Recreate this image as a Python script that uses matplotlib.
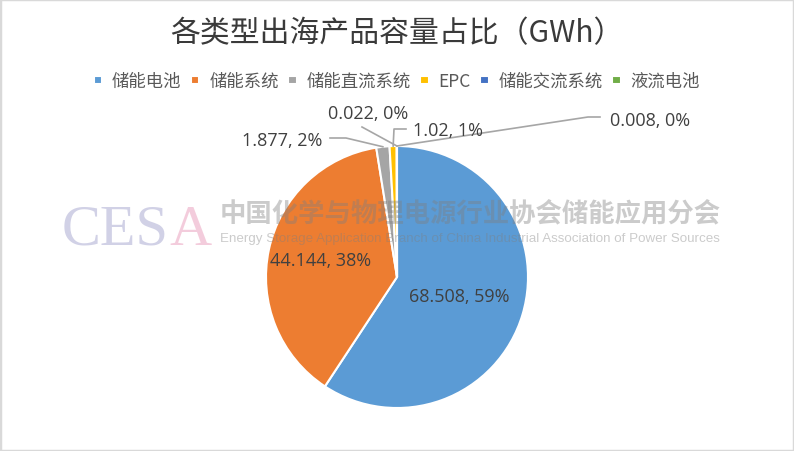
import numpy as np
import matplotlib.pyplot as plt
from matplotlib.lines import Line2D
from matplotlib.patches import Rectangle

categories = ['储能电池', '储能系统', '储能直流系统', 'EPC', '储能交流系统', '液流电池']
capacity_gwh = [68.508, 44.144, 1.877, 1.02, 0.022, 0.008]
colors = ['#5B9BD5', '#ED7D31', '#A5A5A5', '#FFC000', '#4472C4', '#70AD47']

W, H = 794, 452
plt.rcParams['font.family'] = ['Noto Sans CJK SC', 'DejaVu Sans']

fig = plt.figure(figsize=(W / 100, H / 100), dpi=100)

# pie centre and radius in figure pixels (y from bottom)
cx, cy, r = 397, H - 278, 131
ax = fig.add_axes([(cx - r) / W, (cy - r) / H, 2 * r / W, 2 * r / H])
wedges, _ = ax.pie(capacity_gwh, colors=colors, startangle=90, counterclock=False,
                   radius=1, wedgeprops=dict(edgecolor='white', linewidth=1.5))
ax.set_xlim(-1, 1)
ax.set_ylim(-1, 1)
ax.axis('off')

total = sum(capacity_gwh)
labels = [f"{v}, {v / total * 100:.0f}%" for v in capacity_gwh]
txt_color = '#404040'
lbl_font = ['Open Sans', 'DejaVu Sans']


def wedge_point(w, rad=1.0):
    ang = np.deg2rad((w.theta1 + w.theta2) / 2)
    return cx + r * rad * np.cos(ang), cy + r * rad * np.sin(ang)


# big slices: label inside
for i, rad in [(0, 0.5), (1, 0.6)]:
    x, y = wedge_point(wedges[i], rad)
    fig.text(x / W, y / H, labels[i], ha='center', va='center', fontsize=13,
             color=txt_color, family=lbl_font)

# small slices: label outside with leader lines (image coords, y from top)
outside = {
    2: ((282, 141), [(330, 139), (346, 139)]),
    4: ((368, 114), [(362, 128)]),
    3: ((448, 131), [(406, 130), (394, 130)]),
    5: ((650, 121), [(600, 118), (588, 118)]),
}
for i, ((tx, ty), pts) in outside.items():
    fig.text(tx / W, 1 - ty / H, labels[i], ha='center', va='center', fontsize=13,
             color=txt_color, family=lbl_font)
    ex, ey = wedge_point(wedges[i], 1.0)
    xs = [p[0] for p in pts] + [ex]
    ys = [H - p[1] for p in pts] + [ey]
    fig.add_artist(Line2D(np.array(xs) / W, np.array(ys) / H, transform=fig.transFigure,
                          color='#A6A6A6', lw=1.2))

# title
fig.text(397 / W, 1 - 34 / H, '各类型出海产品容量占比（GWh）', ha='center', va='center',
         fontsize=21.5, color='#3a3a3a')

# legend with square markers
fig.legend(wedges, categories, loc='center', bbox_to_anchor=(397 / W, 1 - 82 / H), ncol=6,
           frameon=False, fontsize=12.5, handlelength=0.5, handleheight=0.5,
           handletextpad=0.55, columnspacing=0.55, labelcolor='#595959')
for h in fig.legends[0].legend_handles:
    y0, h0 = h.get_y(), h.get_height()
    h.set_width(6)
    h.set_height(6)
    h.set_y(y0 + (h0 - 6) / 2)

# watermark
fig.text(62 / W, 1 - 245 / H, 'CES', fontsize=42, family='Liberation Serif',
         color='#c9c9e2', alpha=0.85, va='baseline', ha='left')
fig.text(169 / W, 1 - 245 / H, 'A', fontsize=42, family='Liberation Serif',
         color='#f2c4d6', alpha=0.85, va='baseline', ha='left')
fig.text(220 / W, 1 - 214 / H, '中国化学与物理电源行业协会储能应用分会', fontsize=19,
         color='#7f7f7f', alpha=0.4, va='center', ha='left', weight='bold')
fig.text(220 / W, 1 - 239 / H,
         'Energy Storage Application Branch of China Industrial Association of Power Sources',
         fontsize=9.65, family='Liberation Sans', color='#7f7f7f', alpha=0.4,
         va='center', ha='left')

# chart border
fig.add_artist(Rectangle((0, 0), 1, 1, transform=fig.transFigure, fill=False,
                         edgecolor='#d9d9d9', lw=2.5))

fig.savefig('out.png', dpi=100, facecolor='white')
